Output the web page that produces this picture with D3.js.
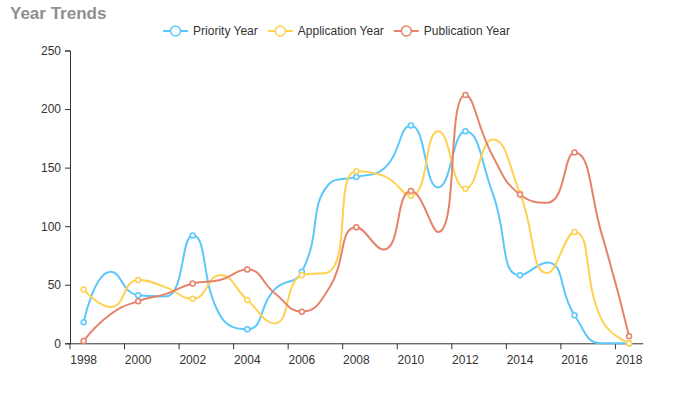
<!DOCTYPE html>
<html>
<head>
<meta charset="utf-8">
<script src="https://cdn.jsdelivr.net/npm/d3@7"></script>
<style>
  body { margin: 0; background: #fff; }
  text { font-family: "Liberation Sans", Arial, sans-serif; }
</style>
</head>
<body>
<div id="chart"></div>
<script>
const years = ["1998", "1999", "2000", "2001", "2002", "2003", "2004", "2005", "2006", "2007", "2008",
               "2009", "2010", "2011", "2012", "2013", "2014", "2015", "2016", "2017", "2018"];
const priorityYear = [18, 61, 41, 40, 92, 24, 12, 46, 61, 136, 142, 149, 186, 133, 181, 128, 58, 69, 24, 0, 0];
const applicationYear = [46, 31, 54, 48, 38, 58, 37, 17, 58, 61, 147, 143, 126, 181, 132, 174, 128, 60, 95, 20, 0];
const publicationYear = [2, 25, 36, 42, 51, 54, 63, 43, 27, 47, 99, 80, 130, 95, 212, 160, 127, 120, 163, 93, 6];
const yTicks = [0, 50, 100, 150, 200, 250];

const series = [
  { name: "Priority Year", values: priorityYear, color: "#5ac8fa" },
  { name: "Application Year", values: applicationYear, color: "#ffd152" },
  { name: "Publication Year", values: publicationYear, color: "#e5836a" }
];

const width = 673, height = 418;
const svg = d3.select("#chart").append("svg")
  .attr("width", width)
  .attr("height", height);

const x = d3.scaleBand().domain(years).range([70, 642.7]).padding(0);
const y = d3.scaleLinear().domain([0, 250]).range([343.3, 50.5]);
const bw = x.bandwidth();
const cx = d => x(d) + bw / 2;

// echarts style smoothing (smooth = 0.5, with no overshoot)
function smoothPath(pts, smooth) {
  const p = d3.path();
  let cpx0, cpy0, cpx1, cpy1;
  const n = pts.length;
  for (let i = 0; i < n; i++) {
    const [px, py] = pts[i];
    if (i === 0) { p.moveTo(px, py); cpx0 = px; cpy0 = py; continue; }
    const [prevX, prevY] = pts[i - 1];
    let nextCpx0, nextCpy0;
    if (i === n - 1) {
      cpx1 = px; cpy1 = py;
    } else {
      const [nextX, nextY] = pts[i + 1];
      let vx = nextX - prevX, vy = nextY - prevY;
      const lenPrev = Math.hypot(px - prevX, py - prevY);
      const lenNext = Math.hypot(nextX - px, nextY - py);
      const ratio = lenNext / (lenNext + lenPrev);
      nextCpx0 = px + vx * smooth * ratio;
      nextCpy0 = py + vy * smooth * ratio;
      nextCpx0 = Math.max(Math.min(nextCpx0, Math.max(nextX, px)), Math.min(nextX, px));
      nextCpy0 = Math.max(Math.min(nextCpy0, Math.max(nextY, py)), Math.min(nextY, py));
      vx = nextCpx0 - px; vy = nextCpy0 - py;
      cpx1 = px - vx * lenPrev / lenNext;
      cpy1 = py - vy * lenPrev / lenNext;
      cpx1 = Math.max(Math.min(cpx1, Math.max(prevX, px)), Math.min(prevX, px));
      cpy1 = Math.max(Math.min(cpy1, Math.max(prevY, py)), Math.min(prevY, py));
      vx = px - cpx1; vy = py - cpy1;
      nextCpx0 = px + vx * lenNext / lenPrev;
      nextCpy0 = py + vy * lenNext / lenPrev;
    }
    p.bezierCurveTo(cpx0, cpy0, cpx1, cpy1, px, py);
    cpx0 = nextCpx0; cpy0 = nextCpy0;
  }
  return p.toString();
}

// title
svg.append("text")
  .attr("x", 10)
  .attr("y", 18.5)
  .attr("fill", "#8f8f8f")
  .style("font-size", "17px")
  .style("font-weight", "bold")
  .text("Year Trends");

// axes
const xAxis = svg.append("g")
  .attr("transform", `translate(0, ${y(0)})`)
  .call(d3.axisBottom(x).tickValues(years.filter((d, i) => i % 2 === 0)).tickSizeOuter(0).tickPadding(6));
xAxis.selectAll(".tick line").attr("x1", -bw / 2).attr("x2", -bw / 2);

const yAxis = svg.append("g")
  .attr("transform", `translate(70, 0)`)
  .call(d3.axisLeft(y).tickValues(yTicks).tickSizeOuter(0).tickSize(5).tickPadding(4));

svg.selectAll(".domain, .tick line").attr("stroke", "#333");
svg.selectAll(".tick text").attr("fill", "#333").style("font-size", "12px")
  .style("font-family", "'Liberation Sans', Arial, sans-serif");

// lines + symbols
series.forEach(s => {
  const pts = years.map((d, i) => [cx(d), y(s.values[i])]);
  svg.append("path")
    .attr("d", smoothPath(pts, 0.5))
    .attr("fill", "none")
    .attr("stroke", s.color)
    .attr("stroke-width", 2);
  svg.append("g").selectAll("circle")
    .data(years.filter((d, i) => i % 2 === 0))
    .join("circle")
    .attr("cx", d => cx(d))
    .attr("cy", d => y(s.values[years.indexOf(d)]))
    .attr("r", 2.5)
    .attr("fill", "#fff")
    .attr("stroke", s.color)
    .attr("stroke-width", 1.5);
});

// legend
const legend = svg.append("g").attr("transform", "translate(0, 31)");
let lx = 0;
const items = legend.selectAll("g").data(series).join("g");
items.append("line").attr("x1", 0).attr("x2", 25).attr("y1", 0).attr("y2", 0)
  .attr("stroke", d => d.color).attr("stroke-width", 2);
items.append("circle").attr("cx", 12.5).attr("cy", 0).attr("r", 5)
  .attr("fill", "#fff").attr("stroke", d => d.color).attr("stroke-width", 1.5);
items.append("text").attr("x", 30).attr("y", 4.3)
  .attr("fill", "#333").style("font-size", "12px")
  .text(d => d.name);
items.each(function () {
  const w = 30 + this.querySelector("text").getComputedTextLength();
  d3.select(this).attr("transform", `translate(${lx}, 0)`);
  lx += w + 10;
});
const totalW = lx - 10;
legend.attr("transform", `translate(${(width - totalW) / 2}, 31)`);
</script>
</body>
</html>
